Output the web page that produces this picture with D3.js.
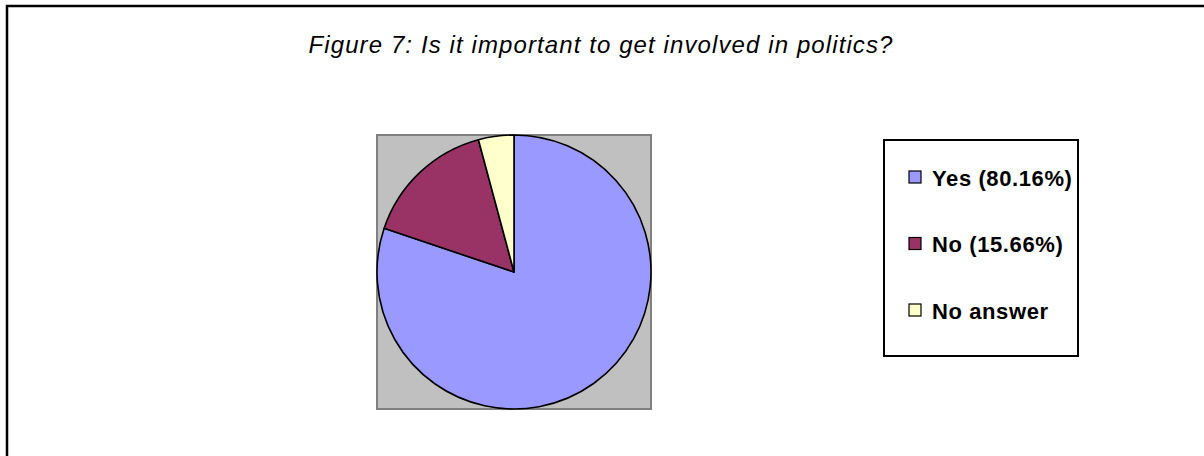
<!DOCTYPE html>
<html>
<head>
<meta charset="utf-8">
<script src="https://cdn.jsdelivr.net/npm/d3@7"></script>
<style>
  html, body { margin: 0; padding: 0; background: #fff; }
  svg { display: block; }
</style>
</head>
<body>
<script>
// Survey answers: share of respondents per answer
const categories = ["Yes (80.16%)", "No (15.66%)", "No answer"];
const values = [80.16, 15.66, 4.18];
const colors = ["#9999FF", "#993366", "#FFFFCC"];
const title = "Figure 7: Is it important to get involved in politics?";

const W = 1204, H = 456;
const svg = d3.select("body").append("svg")
  .attr("width", W).attr("height", H);

// Outer chart frame (runs off the right and bottom edges)
svg.append("rect")
  .attr("x", 7).attr("y", 6)
  .attr("width", 1220).attr("height", 480)
  .attr("fill", "#fff")
  .attr("stroke", "#000")
  .attr("stroke-width", 2.5);

// Title
svg.append("text")
  .attr("x", 601).attr("y", 53)
  .attr("text-anchor", "middle")
  .attr("font-family", "Liberation Sans, Arial, sans-serif")
  .attr("font-style", "italic")
  .attr("font-size", 24)
  .attr("letter-spacing", 1.1)
  .attr("fill", "#000")
  .text(title);

// Plot area
const plot = { x: 377, y: 135, size: 274 };
svg.append("rect")
  .attr("x", plot.x).attr("y", plot.y)
  .attr("width", plot.size).attr("height", plot.size)
  .attr("fill", "#C0C0C0")
  .attr("stroke", "#808080")
  .attr("stroke-width", 2);

// Pie
const cx = 514, cy = 272, r = 137;
const pie = d3.pie().sort(null).value(d => d.value);
const arc = d3.arc().innerRadius(0).outerRadius(r);
const data = categories.map((c, i) => ({ label: c, value: values[i], color: colors[i] }));

svg.append("g")
  .attr("transform", `translate(${cx},${cy})`)
  .selectAll("path")
  .data(pie(data))
  .join("path")
  .attr("d", arc)
  .attr("fill", d => d.data.color)
  .attr("stroke", "#000")
  .attr("stroke-width", 1.6)
  .attr("stroke-linejoin", "round");

// Legend
const legend = { x: 884, y: 140, w: 194, h: 216 };
svg.append("rect")
  .attr("x", legend.x).attr("y", legend.y)
  .attr("width", legend.w).attr("height", legend.h)
  .attr("fill", "#fff")
  .attr("stroke", "#000")
  .attr("stroke-width", 2);

const ly = d3.scalePoint()
  .domain(categories)
  .range([178, 311]);

const items = svg.append("g")
  .selectAll("g")
  .data(data)
  .join("g")
  .attr("transform", d => `translate(0,${ly(d.label)})`);

items.append("rect")
  .attr("x", 909).attr("y", -7)
  .attr("width", 12).attr("height", 12)
  .attr("fill", d => d.color)
  .attr("stroke", "#000")
  .attr("stroke-width", 1.2);

items.append("text")
  .attr("x", 932).attr("y", 7.5)
  .attr("font-family", "Liberation Sans, Arial, sans-serif")
  .attr("font-weight", "bold")
  .attr("font-size", 22)
  .attr("letter-spacing", 0.6)
  .attr("fill", "#000")
  .text(d => d.label);
</script>
</body>
</html>
